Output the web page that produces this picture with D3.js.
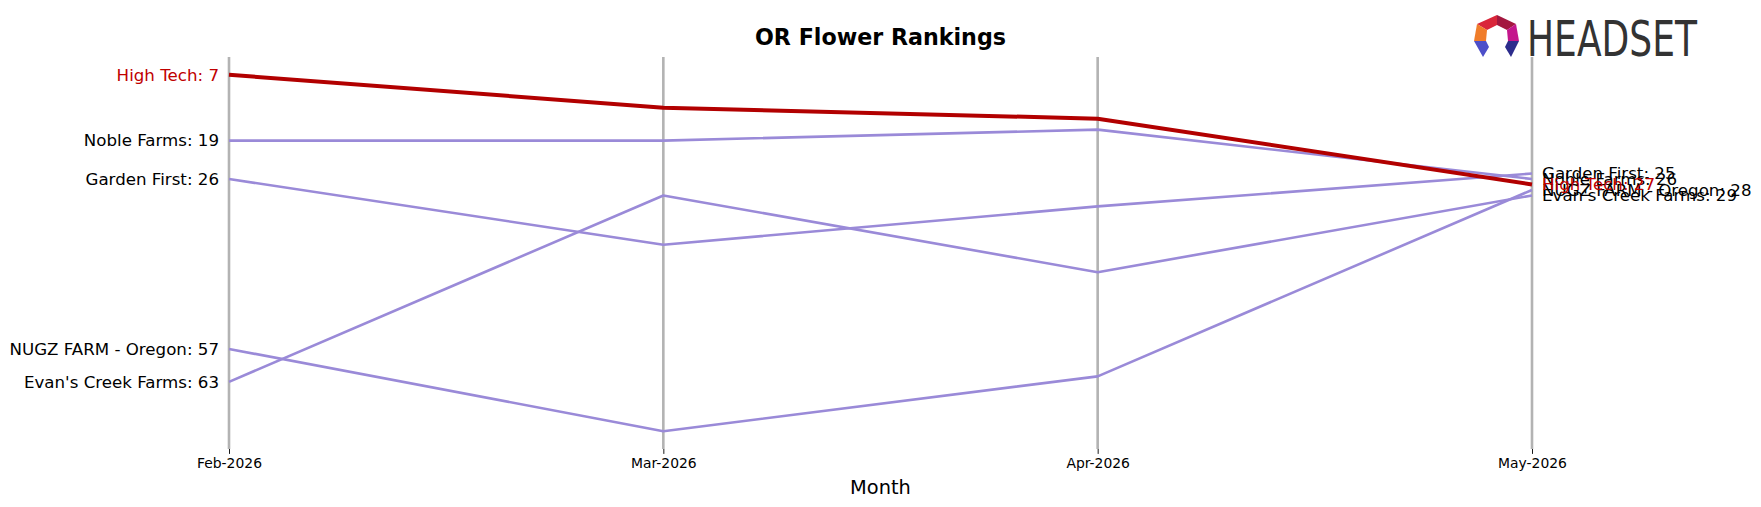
<meta charset="UTF-8">
<head>
  <script src="https://d3js.org/d3.v7.min.js"></script>
  <style>
    body { margin: 0; background: #fff; }
    text { font-family: "DejaVu Sans", sans-serif; }
  </style>
</head>
<body>
  <svg id="svg" width="1761" height="507"></svg>
  <script>
    // data
    const months = ["Feb-2026", "Mar-2026", "Apr-2026", "May-2026"];
    const brands = ["High Tech", "Noble Farms", "Garden First", "NUGZ FARM - Oregon", "Evan's Creek Farms"];
    const highTech = [7, 13, 15, 27];
    const nobleFarms = [19, 19, 17, 26];
    const gardenFirst = [26, 38, 31, 25];
    const nugzFarm = [57, 72, 62, 28];
    const evansCreek = [63, 29, 43, 29];
    const focus = "High Tech";

    const series = [
      { name: brands[1], ranks: nobleFarms },
      { name: brands[2], ranks: gardenFirst },
      { name: brands[3], ranks: nugzFarm },
      { name: brands[4], ranks: evansCreek },
      { name: brands[0], ranks: highTech }
    ];

    const svg = d3.select("#svg");
    const plotL = 164, plotR = 1597, plotT = 57, plotB = 449;

    const allRanks = series.flatMap(s => s.ranks);
    const lo = d3.min(allRanks), hi = d3.max(allRanks);
    const pad = (hi - lo) * 0.05;

    const x = d3.scalePoint().domain(months).range([229, 1532]);
    const y = d3.scaleLinear().domain([lo - pad, hi + pad]).range([plotT, plotB]);

    // vertical month lines
    svg.append("g").selectAll("line").data(months).join("line")
      .attr("x1", d => x(d)).attr("x2", d => x(d))
      .attr("y1", plotT).attr("y2", plotB)
      .attr("stroke", "#b3b3b3").attr("stroke-width", 2.6);

    // x axis
    const xAxis = svg.append("g")
      .attr("transform", `translate(0,${plotB})`)
      .call(d3.axisBottom(x).tickSize(4.9).tickPadding(4.5));
    xAxis.select(".domain").remove();
    xAxis.selectAll(".tick line").attr("stroke", "#000").attr("stroke-width", 0.9);
    xAxis.selectAll(".tick text").attr("font-size", "13.9px").attr("font-family", "DejaVu Sans").attr("fill", "#000");

    const line = d3.line().x((d, i) => x(months[i])).y(d => y(d));

    svg.append("g").selectAll("path").data(series).join("path")
      .attr("d", d => line(d.ranks))
      .attr("fill", "none")
      .attr("stroke", d => d.name === focus ? "#b20000" : "#9a8ad8")
      .attr("stroke-width", d => d.name === focus ? 4 : 2.6)
      .attr("stroke-linejoin", "round");

    // left labels
    svg.append("g").selectAll("text").data(series).join("text")
      .attr("x", x(months[0]) - 10)
      .attr("y", d => y(d.ranks[0]))
      .attr("dy", "0.35em")
      .attr("text-anchor", "end")
      .attr("font-size", "16.67px")
      .attr("fill", d => d.name === focus ? "#c00000" : "#000")
      .text(d => `${d.name}: ${d.ranks[0]}`);

    // right labels
    const last = months.length - 1;
    svg.append("g").selectAll("text").data(series).join("text")
      .attr("x", x(months[last]) + 10)
      .attr("y", d => y(d.ranks[last]))
      .attr("dy", "0.35em")
      .attr("text-anchor", "start")
      .attr("font-size", "16.67px")
      .attr("fill", d => d.name === focus ? "#c00000" : "#000")
      .text(d => `${d.name}: ${d.ranks[last]}`);

    // title and axis label
    svg.append("text")
      .attr("x", (plotL + plotR) / 2).attr("y", 37).attr("dy", "0.35em")
      .attr("text-anchor", "middle").attr("font-size", "22.2px").attr("font-weight", "bold")
      .text("OR Flower Rankings");

    svg.append("text")
      .attr("x", (plotL + plotR) / 2).attr("y", 487).attr("dy", "0.35em")
      .attr("text-anchor", "middle").attr("font-size", "19.4px")
      .text("Month");

    // logo
    const logo = svg.append("g");
    const pieces = [
      { pts: [[1477,24],[1497,15],[1497,25],[1487,30]], c: "#d9263a" },
      { pts: [[1497,15],[1516,24],[1507,30],[1497,25]], c: "#a3173f" },
      { pts: [[1477,24],[1487,30],[1486,41],[1474,41]], c: "#f07d2a" },
      { pts: [[1516,24],[1519,41],[1508,41],[1507,30]], c: "#c4168c" },
      { pts: [[1474,41],[1486,41],[1489,47],[1483,57]], c: "#4d4fc9" },
      { pts: [[1519,41],[1508,41],[1505,47],[1511,57]], c: "#2c2c8c" }
    ];
    logo.selectAll("polygon").data(pieces).join("polygon")
      .attr("points", d => d.pts.map(p => p.join(",")).join(" "))
      .attr("fill", d => d.c);
    logo.append("text")
      .attr("x", 1527).attr("y", 56)
      .attr("font-family", "DejaVu Sans Condensed, DejaVu Sans")
      .attr("font-size", "49px")
      .attr("textLength", 170).attr("lengthAdjust", "spacingAndGlyphs")
      .attr("fill", "#333")
      .text("HEADSET");
  </script>
</body>
